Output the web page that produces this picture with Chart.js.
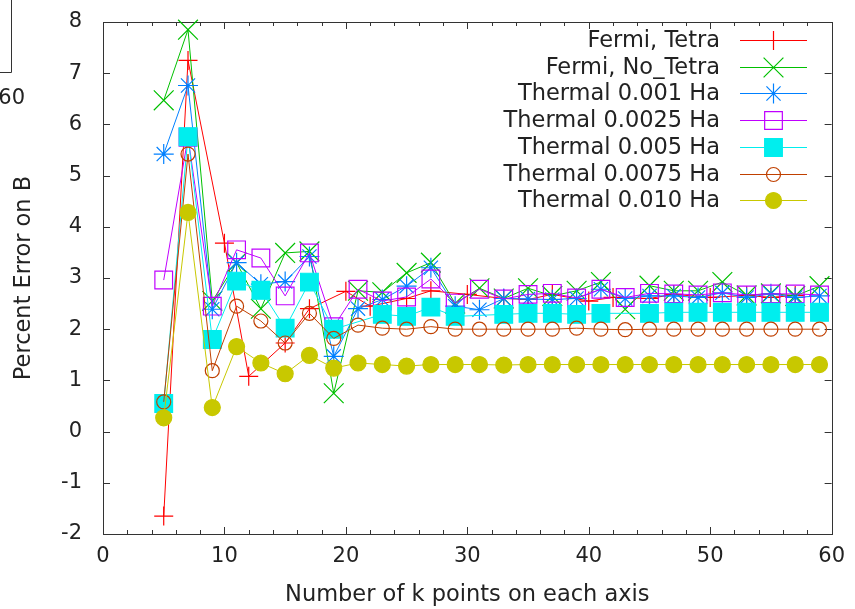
<!DOCTYPE html>
<html>
<head>
<meta charset="utf-8">
<script src="https://cdn.jsdelivr.net/npm/chart.js@4/dist/chart.umd.min.js"></script>
<style>
  html, body { margin: 0; padding: 0; background: #ffffff; overflow: hidden; }
  canvas { display: block; }
</style>
</head>
<body>
<canvas id="chart" width="855" height="609"></canvas>
<script>
// k-point grids (points per axis)
const kOdd   = [5, 7, 9, 11, 13, 15, 17, 19, 21, 23, 25, 27, 29, 31, 33, 35, 37, 39, 41, 43, 45, 47, 49, 51, 53, 55, 57, 59];
const kTetra = [5, 7, 10, 12, 15, 17, 20, 22, 25, 27, 30, 33, 35, 37, 40, 42, 45, 47, 50, 53, 55, 57];
const kT005  = [5, 7, 9, 11, 13, 15, 17, 19, 23, 25, 27, 29, 33, 35, 37, 39, 41, 45, 47, 49, 51, 53, 55, 57, 59];

// percent error on the bulk modulus B
const fermiTetra   = [-1.65, 7.25, 3.68, 1.08, 1.73, 2.40, 2.74, 2.45, 2.60, 2.75, 2.68, 2.60, 2.58, 2.68, 2.55, 2.62, 2.60, 2.68, 2.62, 2.66, 2.62, 2.66];
const fermiNoTetra = [6.47, 7.85, 2.55, 3.30, 2.40, 3.49, 3.52, 0.75, 2.75, 2.72, 3.10, 3.30, 2.50, 2.80, 2.60, 2.80, 2.65, 2.75, 2.92, 2.39, 2.85, 2.75, 2.75, 2.92, 2.66, 2.70, 2.65, 2.84];
const thermal0010  = [5.42, 6.76, 2.39, 3.30, 2.88, 2.93, 3.42, 1.47, 2.40, 2.58, 2.84, 3.20, 2.45, 2.38, 2.60, 2.59, 2.58, 2.60, 2.78, 2.60, 2.65, 2.65, 2.62, 2.71, 2.62, 2.69, 2.62, 2.65];
const thermal0025  = [2.96, 5.75, 2.45, 3.55, 3.39, 2.65, 3.49, 2.05, 2.78, 2.55, 2.63, 2.98, 2.51, 2.78, 2.59, 2.68, 2.70, 2.61, 2.78, 2.62, 2.70, 2.69, 2.67, 2.71, 2.67, 2.69, 2.69, 2.67];
const thermal0050  = [0.55, 5.76, 1.80, 2.94, 2.76, 2.02, 2.92, 2.00, 2.29, 2.25, 2.43, 2.25, 2.29, 2.31, 2.31, 2.29, 2.31, 2.31, 2.33, 2.33, 2.33, 2.33, 2.33, 2.33, 2.33];
const thermal0075  = [0.58, 5.42, 1.19, 2.45, 2.16, 1.73, 2.31, 1.82, 2.08, 2.02, 2.00, 2.05, 2.00, 2.00, 2.00, 2.00, 2.00, 2.02, 2.00, 1.99, 2.00, 2.00, 2.00, 2.00, 2.00, 2.00, 2.00, 2.00];
const thermal0100  = [0.27, 4.28, 0.47, 1.66, 1.34, 1.13, 1.49, 1.24, 1.34, 1.31, 1.28, 1.31, 1.31, 1.31, 1.30, 1.31, 1.31, 1.31, 1.31, 1.31, 1.31, 1.31, 1.31, 1.31, 1.31, 1.31, 1.31, 1.31];

const seriesLabels = ['Fermi, Tetra', 'Fermi, No_Tetra', 'Thermal 0.001 Ha', 'Thermal 0.0025 Ha',
                      'Thermal 0.005 Ha', 'Thermal 0.0075 Ha', 'Thermal 0.010 Ha'];

const xTitle = 'Number of k points on each axis';
const yTitle = 'Percent Error on B';
const cornerLabel = '60';

const FONT = '"DejaVu Sans", "Liberation Sans", sans-serif';
const INK = '#222222';
const FRAME = '#333333';

function pts(xs, ys) { return xs.map((x, i) => ({ x: x, y: ys[i] })); }

function series(label, xs, ys, color, style, radius, filled, order) {
  return {
    label: label,
    data: pts(xs, ys),
    borderColor: color,
    backgroundColor: color,
    borderWidth: 1,
    pointStyle: style,
    pointRadius: radius,
    pointHoverRadius: radius,
    pointBorderWidth: 1.2,
    pointBorderColor: color,
    pointBackgroundColor: filled ? color : 'rgba(0,0,0,0)',
    tension: 0,
    fill: false,
    clip: 14,
    order: order
  };
}

const datasets = [
  series(seriesLabels[0], kTetra, fermiTetra,   '#ff0000', 'cross',    9.5,  false, 6),
  series(seriesLabels[1], kOdd,   fermiNoTetra, '#00c000', 'crossRot', 14,   false, 5),
  series(seriesLabels[2], kOdd,   thermal0010,  '#0080ff', 'star',     10,   false, 4),
  series(seriesLabels[3], kOdd,   thermal0025,  '#c000ff', 'rect',     12.5, false, 3),
  series(seriesLabels[4], kT005,  thermal0050,  '#00eeee', 'rect',     12.5, true,  2),
  series(seriesLabels[5], kOdd,   thermal0075,  '#c04000', 'circle',   7,    false, 1),
  series(seriesLabels[6], kOdd,   thermal0100,  '#c8c800', 'circle',   8,    true,  0)
];

// border box plus inward tick marks on all four sides
const frameTicks = {
  id: 'frameTicks',
  beforeDatasetsDraw(chart) {
    const { ctx, chartArea: a, scales } = chart;
    const xs = scales.x, ys = scales.y;
    ctx.save();
    ctx.strokeStyle = FRAME;
    ctx.lineWidth = 1;
    ctx.beginPath();
    for (let v = xs.min; v <= xs.max; v += 2) {
      const px = Math.round(xs.getPixelForValue(v)) + 0.5;
      const len = (v % 10 === 0) ? 7 : 4;
      ctx.moveTo(px, a.bottom); ctx.lineTo(px, a.bottom - len);
      ctx.moveTo(px, a.top);    ctx.lineTo(px, a.top + len);
    }
    for (let v = ys.min; v <= ys.max; v += 1) {
      const py = Math.round(ys.getPixelForValue(v)) + 0.5;
      ctx.moveTo(a.left, py);  ctx.lineTo(a.left + 7, py);
      ctx.moveTo(a.right, py); ctx.lineTo(a.right - 7, py);
    }
    ctx.stroke();
    ctx.strokeRect(Math.round(a.left) + 0.5, Math.round(a.top) + 0.5,
                   Math.round(a.right - a.left), Math.round(a.bottom - a.top));
    ctx.restore();
  }
};

// key in the upper right: right-aligned names, then a line sample with its marker
const seriesKey = {
  id: 'seriesKey',
  afterDraw(chart) {
    const { ctx } = chart;
    const textRight = 720, x0 = 740, x1 = 807, yFirst = 40, rowStep = 26.7;
    chart.data.datasets.forEach((ds, i) => {
      const y = Math.round(yFirst + i * rowStep) + 0.5;
      ctx.save();
      ctx.font = '22.5px ' + FONT;
      ctx.fillStyle = INK;
      ctx.textAlign = 'right';
      ctx.textBaseline = 'middle';
      ctx.fillText(ds.label, textRight, y + 1);
      ctx.strokeStyle = ds.borderColor;
      ctx.lineWidth = 1;
      ctx.beginPath(); ctx.moveTo(x0, y); ctx.lineTo(x1, y); ctx.stroke();
      ctx.fillStyle = ds.pointBackgroundColor;
      ctx.strokeStyle = ds.pointBorderColor;
      ctx.lineWidth = ds.pointBorderWidth;
      Chart.helpers.drawPoint(ctx, {
        pointStyle: ds.pointStyle, radius: ds.pointRadius,
        borderWidth: ds.pointBorderWidth, rotation: 0
      }, (x0 + x1) / 2, y);
      ctx.restore();
    });
  }
};

// edge of the neighbouring panel at the top left
const cornerPanel = {
  id: 'cornerPanel',
  afterDraw(chart) {
    const { ctx } = chart;
    ctx.save();
    ctx.strokeStyle = FRAME;
    ctx.lineWidth = 1;
    ctx.beginPath();
    ctx.moveTo(11.5, 0); ctx.lineTo(11.5, 72.5); ctx.lineTo(0, 72.5);
    ctx.stroke();
    ctx.font = '21px ' + FONT;
    ctx.fillStyle = INK;
    ctx.textAlign = 'right';
    ctx.textBaseline = 'middle';
    ctx.fillText(cornerLabel, 25, 99);
    ctx.restore();
  }
};

new Chart(document.getElementById('chart'), {
  type: 'line',
  data: { datasets: datasets },
  plugins: [frameTicks, seriesKey, cornerPanel],
  options: {
    responsive: false,
    animation: false,
    devicePixelRatio: 1,
    layout: { padding: { left: 0, top: 22, right: 16, bottom: 0 } },
    plugins: { legend: { display: false }, tooltip: { enabled: false } },
    scales: {
      x: {
        type: 'linear',
        min: 0, max: 60,
        grid: { display: false, drawTicks: false },
        border: { display: false },
        ticks: { stepSize: 10, padding: 10, color: INK, font: { family: FONT, size: 21 }, maxRotation: 0 },
        title: { display: true, text: xTitle, color: INK, font: { family: FONT, size: 22.5 }, padding: { top: 0, bottom: 0 } },
        afterFit(scale) { scale.height = 75; }
      },
      y: {
        min: -2, max: 8,
        grid: { display: false, drawTicks: false },
        border: { display: false },
        ticks: { stepSize: 1, padding: 21, color: INK, font: { family: FONT, size: 21 } },
        title: { display: true, text: yTitle, color: INK, font: { family: FONT, size: 22.5 }, padding: { top: 11, bottom: 0 } },
        afterFit(scale) {
          scale.width = 103;
          scale.paddingTop = 10;
          scale.paddingBottom = 10;
        }
      }
    }
  }
});
</script>
</body>
</html>
